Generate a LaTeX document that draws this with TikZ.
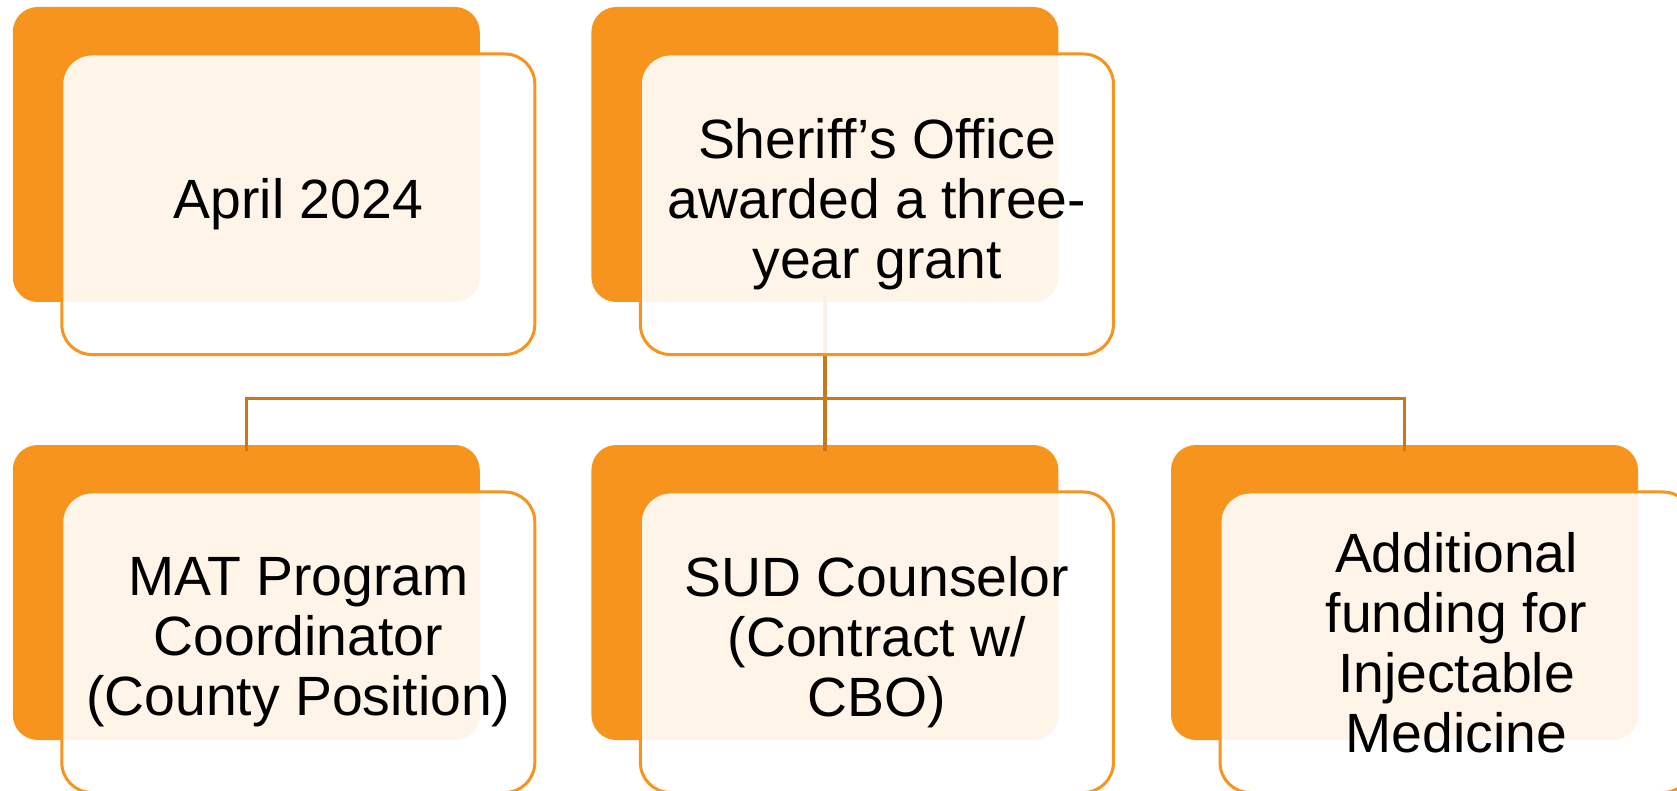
\documentclass[tikz,border=0pt]{standalone}
\usepackage{fontspec}
\setmainfont{Liberation Sans}
\usetikzlibrary{calc}

\definecolor{boxorange}{RGB}{247,148,29}
\definecolor{linkorange}{RGB}{201,121,27}

\tikzset{
  backbox/.style={fill=boxorange, rounded corners=18.75pt, minimum width=350.25pt, minimum height=221.25pt, inner sep=0pt, outer sep=0pt},
  frontbox/.style={draw=boxorange, line width=2.25pt, fill=white, fill opacity=0.9, text opacity=1, rounded corners=22.5pt, minimum width=354.75pt, minimum height=225.4pt, inner sep=0pt, outer sep=0pt, align=center, font=\fontsize{41.5}{45}\selectfont},
  link/.style={draw=linkorange, line width=2.5pt}
}

\begin{document}
\begin{tikzpicture}[x=0.75pt,y=0.75pt,yscale=-1,xscale=1]
\useasboundingbox (0,0) rectangle (1677,791);
\clip (0,0) rectangle (1677,791);

% back boxes
\node [backbox] (back1) at (246.3,154.5) {};
\node [backbox] (back2) at (824.9,154.5) {};
\node [backbox] (back3) at (246.3,592.5) {};
\node [backbox] (back4) at (824.9,592.5) {};
\node [backbox] (back5) at (1404.5,592.5) {};

% connectors
\coordinate (bus) at (824.9,398.5);
\foreach \c in {back3,back4,back5}
  \draw [link] ([yshift=-4.5pt]back2.south) |- (bus -| \c.north) -- ([yshift=4.5pt]\c.north);

% front boxes
\node [frontbox] (april) at ($(back1)+(52,49.75)$) {April 2024};
\node [frontbox] (grant) at ($(back2)+(52,49.75)$) {Sheriff’s Office\\awarded a three-\\year grant};
\node [frontbox] (mat) at ($(back3)+(52,49.75)$) {MAT Program\\Coordinator\\(County Position)};
\node [frontbox] (sud) at ($(back4)+(52,49.75)$) {SUD Counselor\\(Contract w/\\CBO)};
\node [frontbox] (fund) at ($(back5)+(52,49.75)$) {Additional\\funding for\\Injectable\\Medicine};

\end{tikzpicture}
\end{document}
